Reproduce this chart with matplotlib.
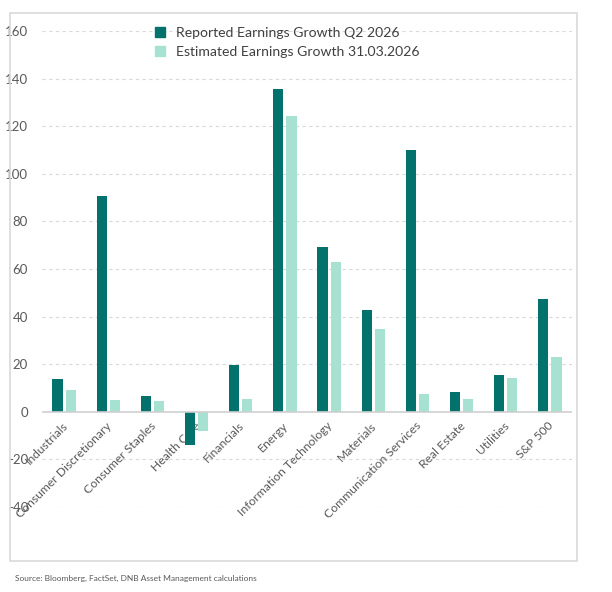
import matplotlib
matplotlib.use("Agg")
import matplotlib.pyplot as plt
import numpy as np
from matplotlib.patches import Rectangle
from matplotlib.lines import Line2D
import matplotlib.transforms as mtransforms

categories = ["Industrials", "Consumer Discretionary", "Consumer Staples", "Health Care",
              "Financials", "Energy", "Information Technology", "Materials",
              "Communication Services", "Real Estate", "Utilities", "S&P 500"]
reported = [13.8, 90.5, 6.7, -14.0, 19.8, 135.8, 69.1, 42.6, 109.8, 8.2, 15.3, 47.2]
estimated = [9.3, 5.0, 4.7, -8.1, 5.5, 124.5, 62.8, 34.6, 7.3, 5.4, 14.4, 23.1]
yticks = [-40, -20, 0, 20, 40, 60, 80, 100, 120, 140, 160]
series_names = ["Reported Earnings Growth Q2 2026", "Estimated Earnings Growth 31.03.2026"]
source = "Source: Bloomberg, FactSet, DNB Asset Management calculations"

dark = "#03716C"
light = "#A6E1D1"
grey_txt = "#595959"

plt.rcParams['font.family'] = ['Lato', 'DejaVu Sans']

fig = plt.figure(figsize=(6.12, 5.92), dpi=100)
ax = fig.add_axes([42/612, 0.1436, 530/612, 0.804])

x = np.arange(len(categories))
w = 0.23
off = 0.15
ax.bar(x - off, reported, w, color=dark, zorder=3)
ax.bar(x + off, estimated, w, color=light, zorder=3)

ax.set_xlim(-0.5, len(categories) - 0.5)
ax.set_ylim(-40, 160)
ax.set_yticks(yticks)
ax.set_yticklabels([str(v) for v in yticks], fontsize=9.5, color=grey_txt)
ax.tick_params(axis='y', length=0, pad=10)
ax.set_xticks([])
for s in ax.spines.values():
    s.set_visible(False)
for v in yticks:
    if v == 0:
        continue
    ax.axhline(v, color="#D9D9D9", lw=0.8, ls=(0, (3, 3)), zorder=1)
ax.axhline(0, color="#D0D0D0", lw=1.2, zorder=4)

trans = ax.transData + mtransforms.ScaledTranslation(-1.5/72, -6/72, fig.dpi_scale_trans)
for xi, lab in zip(x, categories):
    ax.text(xi, 0, lab, rotation=45, ha='right', va='top', rotation_mode='anchor',
            fontsize=8.7, color=grey_txt, transform=trans, zorder=2)

handles = [Line2D([], [], marker='s', ls='none', color=dark, markersize=7),
           Line2D([], [], marker='s', ls='none', color=light, markersize=7)]
leg = fig.legend(handles, series_names, loc='upper left', bbox_to_anchor=(0.232, 0.976),
                 frameon=False, fontsize=10.1, handlelength=0.8, handletextpad=0.75,
                 labelspacing=0.48, labelcolor="#404040")

fig.patches.append(Rectangle((10/612, 1 - 561/592), (577 - 10)/612, (561 - 13)/592,
                             transform=fig.transFigure, fill=False, edgecolor="#D9D9D9",
                             lw=1.2, zorder=0))
fig.text(15/612, 1 - 578/592, source, fontsize=6.0, color=grey_txt, va='center', ha='left')

fig.savefig("out.png", dpi=100)
